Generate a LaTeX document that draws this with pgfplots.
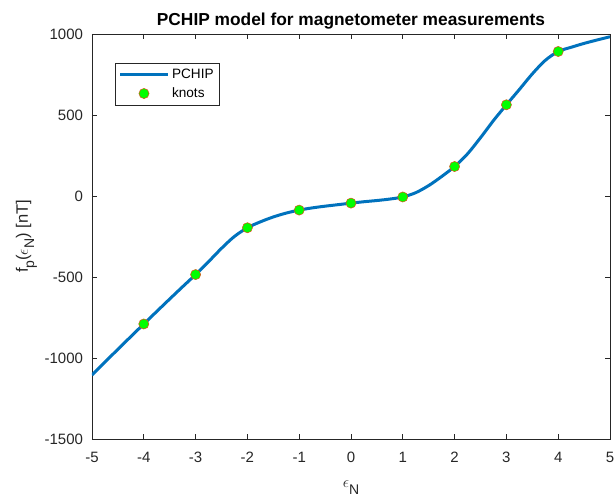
\documentclass[border=0pt]{standalone}
\usepackage{pgfplots}
\pgfplotsset{compat=1.18}
\usepackage{fontspec}
\setmainfont{Liberation Sans}
\definecolor{mblue}{rgb}{0,0.447,0.741}
\definecolor{morange}{rgb}{0.85,0.325,0.098}
\definecolor{axgray}{rgb}{0.15,0.15,0.15}
\newcommand{\msub}[1]{\raisebox{-0.38em}{\fontsize{10.5}{11}\selectfont #1}}
\pgfplotsset{
  lineleg/.style={legend image code/.code={\draw[##1] (0cm,0cm) -- (1.26cm,0cm);}},
  markleg/.style={legend image code/.code={\draw[mark repeat=2,mark phase=2,##1] plot coordinates {(0cm,0cm) (0.63cm,0cm) (1.26cm,0cm)};}},
}
\begin{document}
\begin{tikzpicture}
\begin{axis}[
  scale only axis,
  width=388.5pt, height=303.75pt,
  xmin=-5, xmax=5, ymin=-1500, ymax=1000,
  xtick={-5,-4,...,5},
  ytick={-1500,-1000,-500,0,500,1000},
  tick align=inside,
  major tick length=3.75pt,
  axis line style={axgray, line width=0.5pt},
  tick style={axgray, line width=0.5pt},
  ticklabel style={font=\fontsize{11.25}{13}\selectfont, text=axgray},
  xticklabel style={yshift=-6.5pt},
  yticklabel style={xshift=-3.2pt},
  /pgf/number format/assume math mode=true,
  /pgf/number format/1000 sep={},
  title={\bfseries PCHIP model for magnetometer measurements},
  title style={font=\fontsize{13}{15}\selectfont, at={(axis description cs:0.5,1)}, anchor=base},
  xlabel={$\epsilon$\msub{N}},
  ylabel={f\msub{p}($\epsilon$\msub{N}) [nT]},
  label style={font=\fontsize{12.4}{14}\selectfont, text=axgray},
  xlabel style={at={(axis description cs:0.5,-0.1198)}, anchor=center},
  ylabel style={at={(axis description cs:-0.1264,0.5)}, anchor=center},
  legend style={at={(0.0444,0.928)}, anchor=north west, draw=axgray, font=\fontsize{10.2}{12}\selectfont, legend cell align=left, inner xsep=2.5pt, inner ysep=2pt, row sep=1.5pt},
]
\addplot[mblue, line width=2.25pt, smooth, lineleg] coordinates {
(-5,-1105) (-4.75,-1025.3) (-4.5,-946.2) (-4.25,-867.8)
(-4,-790) (-3.75,-712.7) (-3.5,-635.9) (-3.25,-559.9)
(-3,-485) (-2.75,-405.5) (-2.5,-323.2) (-2.25,-249.5)
(-2,-196) (-1.75,-159.6) (-1.5,-129.4) (-1.25,-105.3)
(-1,-87) (-0.75,-73.5) (-0.5,-62.8) (-0.25,-53.5)
(0,-44) (0.25,-35.4) (0.5,-27.9) (0.75,-18.9)
(1,-6) (1.25,20.5) (1.5,64.4) (1.75,120.2)
(2,182) (2.25,260.4) (2.5,359.8) (2.75,465.6)
(3,563) (3.25,657.4) (3.5,753.8) (3.75,837.1)
(4,892) (4.25,918) (4.5,942) (4.75,963) (5,983)
};
\addlegendentry{PCHIP}
\addplot[only marks, mark=*, mark size=3.8pt, mark options={fill=green, draw=morange, line width=0.4pt}, markleg] coordinates {
(-4,-790) (-3,-485) (-2,-196) (-1,-87) (0,-44) (1,-6) (2,182) (3,563) (4,892)
};
\addlegendentry{knots}
\end{axis}
\pgfresetboundingbox
\path (current axis.south west) ++(-69pt,-42.75pt) rectangle ++(461.25pt,372pt);
\end{tikzpicture}
\end{document}
